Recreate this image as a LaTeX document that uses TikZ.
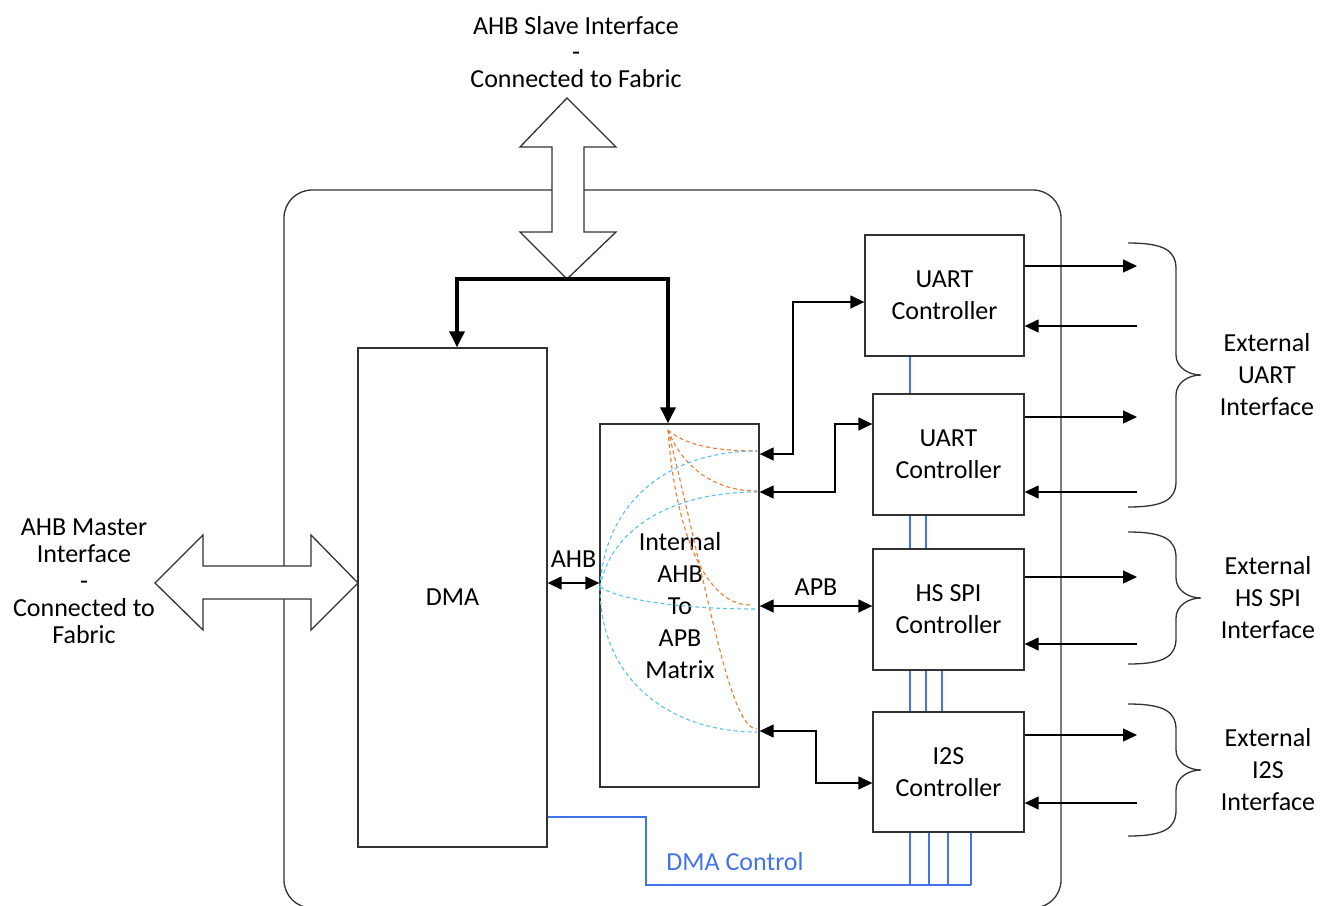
\documentclass[tikz,border=0pt]{standalone}
\usepackage{fontspec}
\setmainfont{Carlito}
\usetikzlibrary{arrows.meta}
\definecolor{ctlblue}{RGB}{66,114,236}
\definecolor{dashorange}{RGB}{237,125,49}
\definecolor{dashblue}{RGB}{91,192,238}
\definecolor{linegray}{RGB}{50,50,50}
\tikzset{
  ln/.style={draw=linegray, line width=1.3pt},
  box/.style={ln, fill=white, align=center, inner sep=0pt},
  tri/.tip={Triangle[length=14pt,width=13pt]},
  conn/.style={ln, draw=black, tri-tri},
  outarr/.style={ln, draw=black, -tri},
  busline/.style={draw=black, line width=3.2pt, -{Triangle[length=16pt,width=15pt]}},
  ctl/.style={draw=ctlblue, line width=1.1pt},
  odash/.style={draw=dashorange, line width=1.1pt, dash pattern=on 4pt off 3pt},
  bdash/.style={draw=dashblue, line width=1.1pt, dash pattern=on 4pt off 3pt},
  bigarrow/.style={ln, fill=white},
  lbl/.style={align=center, inner sep=0pt},
}
\newcommand\extbrace[2]{%
  \draw[ln] (1128,#1) .. controls (1165,#1) and (1176,#1+8) .. (1176,#1+26)
    -- (1176,{(#1+#2)/2-20}) .. controls (1176,{(#1+#2)/2-8}) and (1188,{(#1+#2)/2}) .. (1201,{(#1+#2)/2})
    .. controls (1188,{(#1+#2)/2}) and (1176,{(#1+#2)/2+8}) .. (1176,{(#1+#2)/2+20})
    -- (1176,#2-26) .. controls (1176,#2-8) and (1165,#2) .. (1128,#2);}
\begin{document}
\begin{tikzpicture}[x=1pt,y=-1pt,font=\fontsize{26}{32}\selectfont]
\useasboundingbox (0,0) rectangle (1320,905);
\clip (0,0) rectangle (1320,905);

% outer block
\draw[ln, rounded corners=28pt] (284,190) rectangle (1061,908);

% big double arrows
\draw[bigarrow] (567,98) -- (616,147) -- (584,147) -- (584,232) -- (616,232) -- (567,279)
  -- (520,232) -- (552,232) -- (552,147) -- (520,147) -- cycle;
\coordinate (ahbs) at (567,279);
\draw[bigarrow] (155,583) -- (203,535) -- (203,566) -- (311,566) -- (311,535) -- (358,583)
  -- (311,630) -- (311,599) -- (203,599) -- (203,630) -- cycle;

% labels outside
\node[lbl, font=\fontsize{26}{26.5}\selectfont] (slavelbl) at (576,52) {AHB Slave Interface\\-\\Connected to Fabric};
\node[lbl, font=\fontsize{26}{27}\selectfont] (masterlbl) at (84,581) {AHB Master\\Interface\\-\\Connected to\\Fabric};

% boxes
\node[box, minimum width=189pt, minimum height=499pt] (dma) at (452.5,597.5) {DMA};
\node[box, minimum width=159pt, minimum height=363pt] (mat) at (679.5,605.5) {};
\node[lbl] (mattext) at (680,606) {Internal\\AHB\\To\\APB\\Matrix};
\node[box, minimum width=159pt, minimum height=121pt] (u1) at (944.5,295.5) {UART\\Controller};
\node[box, minimum width=151pt, minimum height=121pt] (u2) at (948.5,454.5) {UART\\Controller};
\node[box, minimum width=151pt, minimum height=121pt] (spi) at (948.5,609.5) {HS SPI\\Controller};
\node[box, minimum width=151pt, minimum height=120pt] (i2s) at (948.5,772) {I2S\\Controller};

% dashed internal routes
\coordinate (otop) at (668,430);
\coordinate (bleft) at (600,587);
\draw[odash] (otop) .. controls (685,445) and (715,451) .. (757,451);
\draw[odash] (otop) .. controls (680,462) and (710,491) .. (757,491);
\draw[odash] (otop) .. controls (675,530) and (705,605) .. (750,605);
\draw[odash] (otop) .. controls (710,600) and (730,729) .. (757,729);
\draw[bdash] (bleft) .. controls (605,500) and (670,451) .. (757,451);
\draw[bdash] (bleft) .. controls (610,530) and (670,492) .. (757,492);
\draw[bdash] (bleft) .. controls (620,600) and (680,609) .. (757,609);
\draw[bdash] (bleft) .. controls (600,680) and (670,732) .. (757,732);

% AHB bus from slave interface
\draw[busline] (ahbs) -| ([xshift=4.5pt]dma.north);
\draw[busline] (ahbs) -| ([xshift=-11.5pt]mat.north);

% AHB DMA <-> matrix
\draw[conn] (dma.east |- 0,583) -- node[above=15pt, lbl] (ahblbl) {AHB} (mat.west |- 0,583);

% APB connections
\draw[conn] (mat.east |- 0,454) -- (793,454) -- (793,302) -- (u1.west |- 0,302);
\draw[conn] (mat.east |- 0,492) -- (835,492) -- (835,424) -- (u2.west |- 0,424);
\draw[conn] (mat.east |- 0,606) -- node[above=10pt, lbl] (apblbl) {APB} (spi.west |- 0,606);
\draw[conn] (mat.east |- 0,731) -- (816,731) -- (816,783) -- (i2s.west |- 0,783);

% external interface arrows
\coordinate (e1o) at (1137,266); \coordinate (e1i) at (1137,326);
\coordinate (e2o) at (1137,417); \coordinate (e2i) at (1137,492);
\coordinate (e3o) at (1137,577); \coordinate (e3i) at (1137,644);
\coordinate (e4o) at (1137,735); \coordinate (e4i) at (1137,803);
\draw[outarr] (u1.east |- e1o) -- (e1o);
\draw[outarr] (e1i) -- (u1.east |- e1i);
\draw[outarr] (u2.east |- e2o) -- (e2o);
\draw[outarr] (e2i) -- (u2.east |- e2i);
\draw[outarr] (spi.east |- e3o) -- (e3o);
\draw[outarr] (e3i) -- (spi.east |- e3i);
\draw[outarr] (i2s.east |- e4o) -- (e4o);
\draw[outarr] (e4i) -- (i2s.east |- e4i);

% braces and labels
\extbrace{243}{507}
\extbrace{532}{664}
\extbrace{704}{836}
\node[lbl] (extuart) at (1267,375) {External\\UART\\Interface};
\node[lbl] (extspi) at (1268,598) {External\\HS SPI\\Interface};
\node[lbl] (exti2s) at (1268,770) {External\\I2S\\Interface};

% DMA control lines
\draw[ctl] (u1.south -| 910,0) -- (u2.north -| 910,0);
\draw[ctl] (u2.south -| 910,0) -- (spi.north -| 910,0);
\draw[ctl] (u2.south -| 926,0) -- (spi.north -| 926,0);
\draw[ctl] (spi.south -| 910,0) -- (i2s.north -| 910,0);
\draw[ctl] (spi.south -| 926,0) -- (i2s.north -| 926,0);
\draw[ctl] (spi.south -| 942,0) -- (i2s.north -| 942,0);
\coordinate (ctlbus) at (971,885);
\draw[ctl] (dma.east |- 0,817) -- (646,817) -- (646,885) -- (ctlbus);
\draw[ctl] (i2s.south -| 910,0) -- (910,885);
\draw[ctl] (i2s.south -| 929,0) -- (929,885);
\draw[ctl] (i2s.south -| 948,0) -- (948,885);
\draw[ctl] (i2s.south -| 971,0) -- (ctlbus);
\node[lbl, text=ctlblue] (ctllbl) at (735,862) {DMA Control};
\end{tikzpicture}
\end{document}
